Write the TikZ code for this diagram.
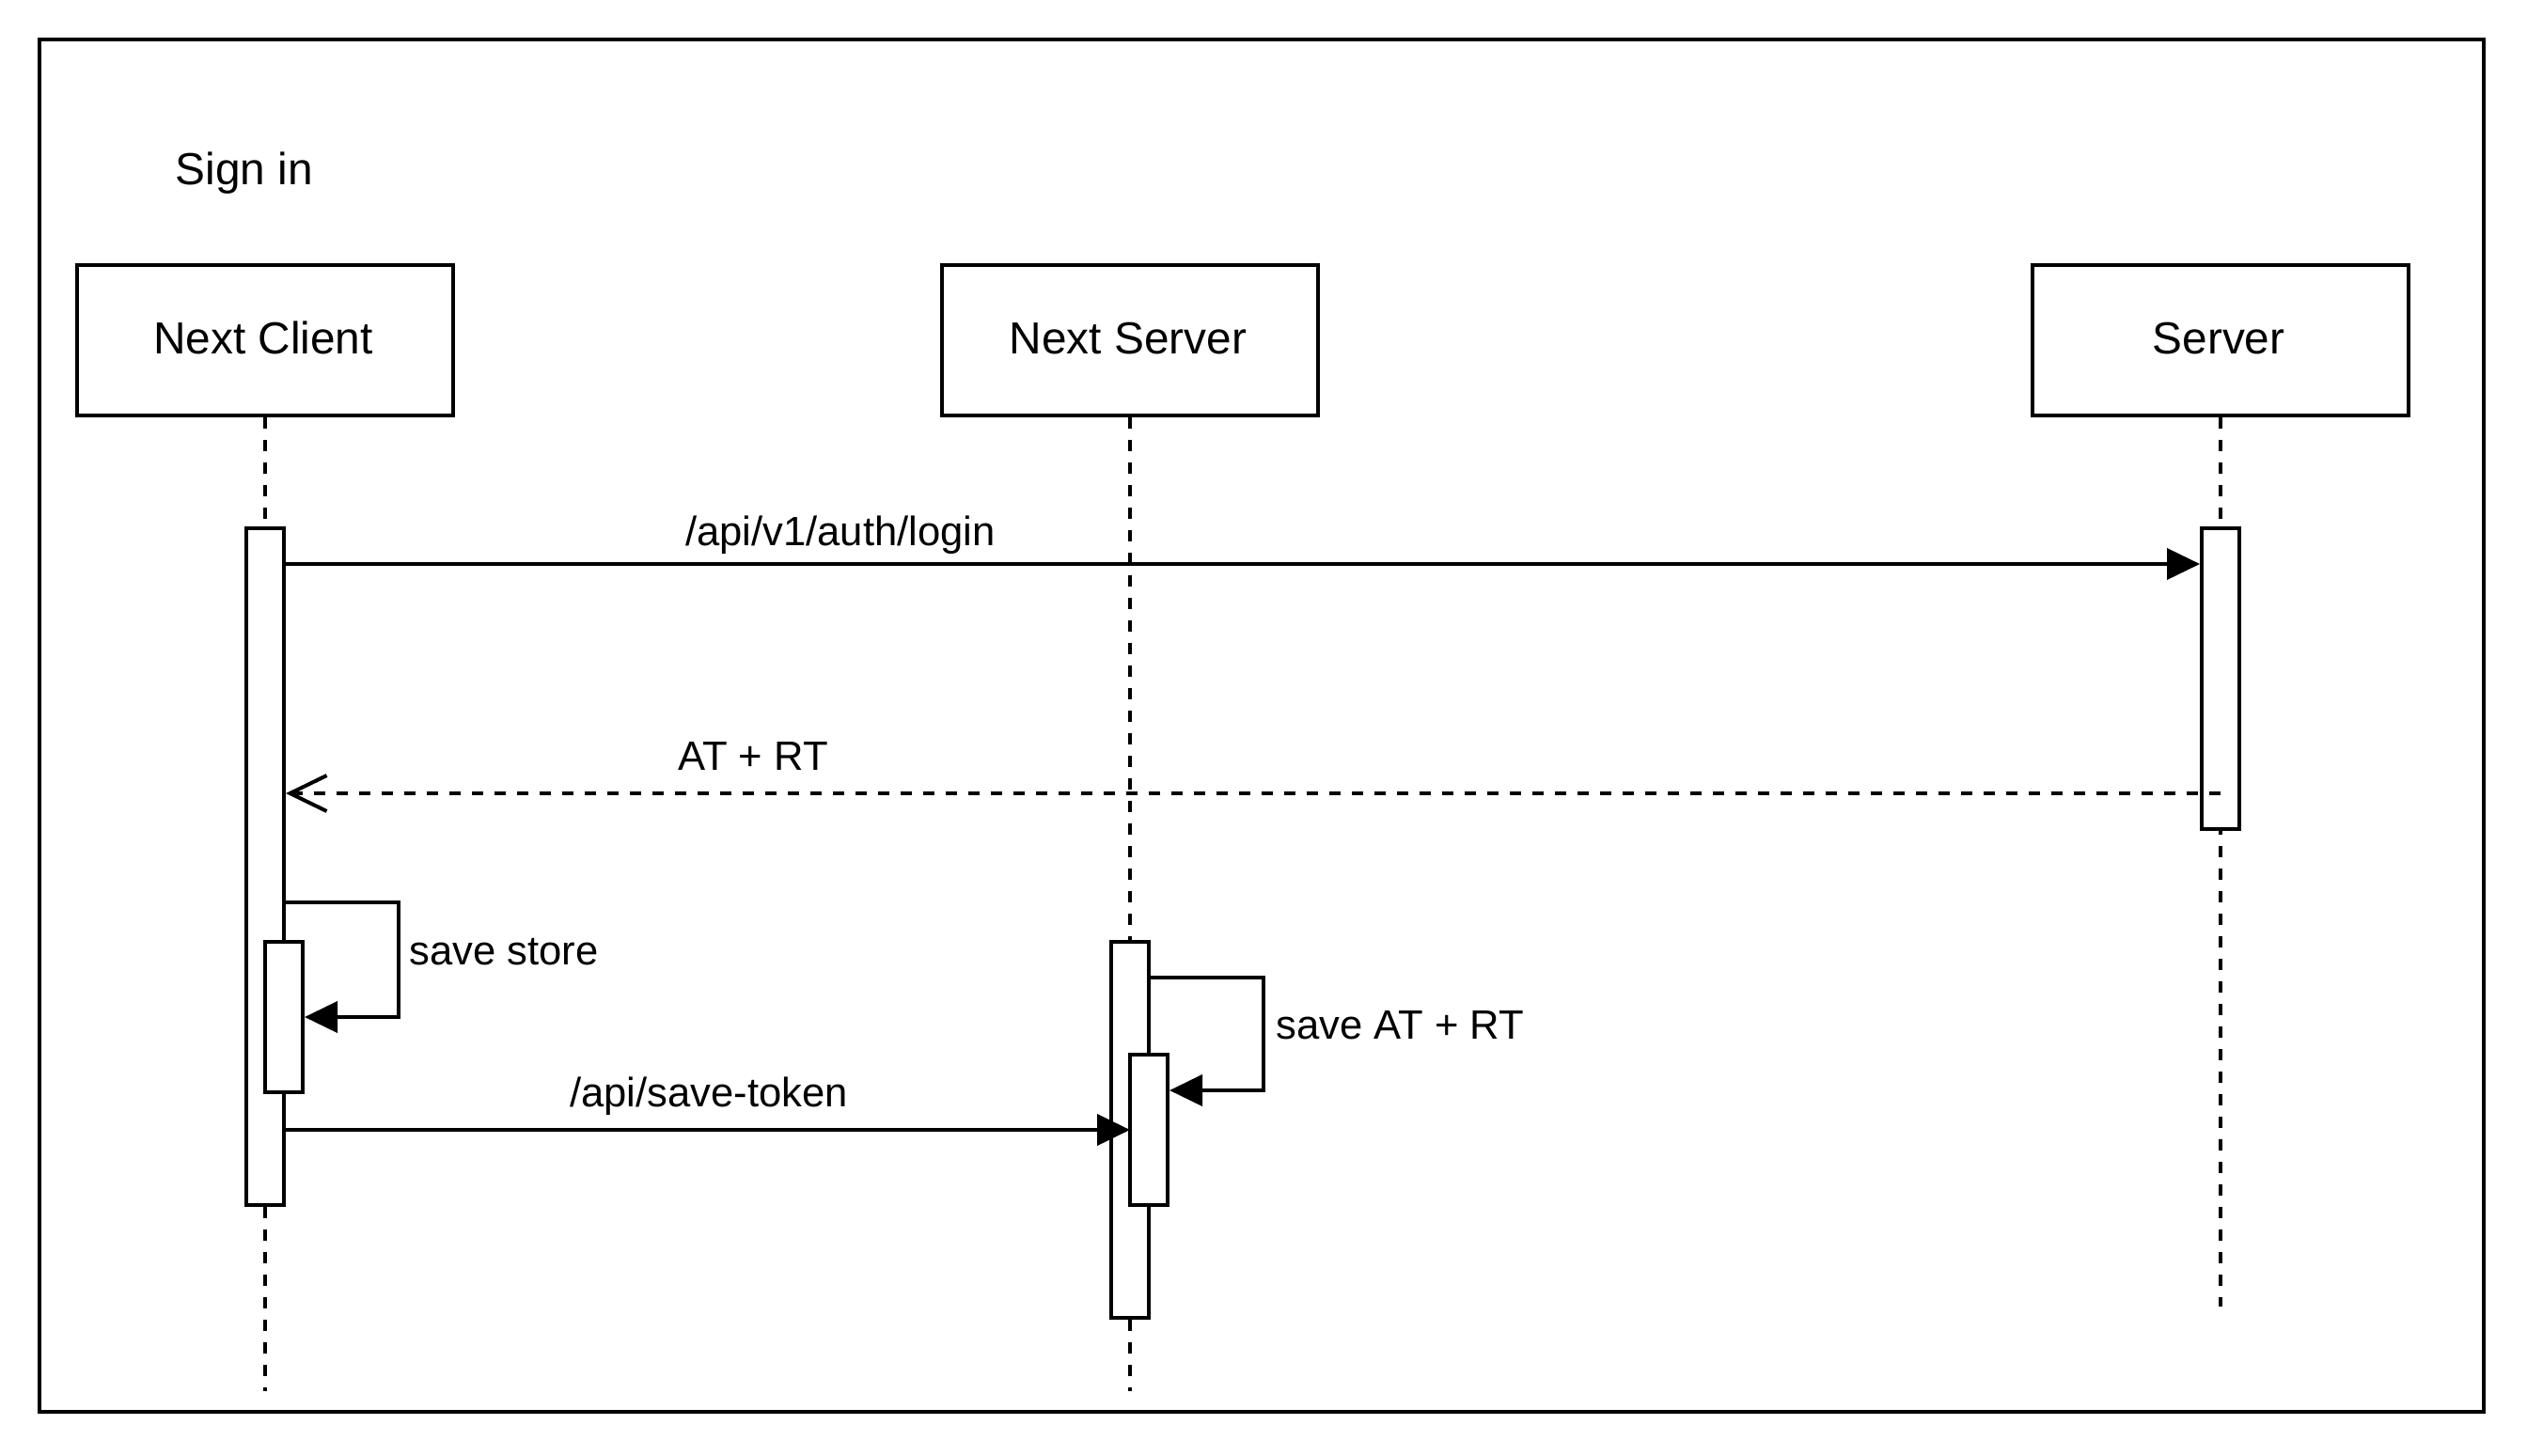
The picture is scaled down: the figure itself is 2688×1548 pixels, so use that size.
\documentclass[tikz,border=0pt]{standalone}
\usepackage{fontspec}
\setmainfont{Liberation Sans}
\usetikzlibrary{arrows.meta}
\begin{document}
\begin{tikzpicture}[x=0.5pt,y=-0.5pt,
  every node/.style={font=\fontsize{23.9pt}{28pt}\selectfont},
  actor/.style={draw,line width=2pt,minimum width=200pt,minimum height=80pt,inner sep=0pt,fill=white},
  act/.style={draw,line width=2pt,minimum width=20pt,inner sep=0pt,fill=white},
  life/.style={line width=2pt,dash pattern=on 6pt off 6pt},
  msg/.style={line width=2pt,-{Triangle[length=17.5pt,width=16.5pt]}},
  ret/.style={line width=2pt,dash pattern=on 6pt off 6pt,-{Straight Barb[length=19.5pt,width=19pt,line width=2pt]}},
  lbl/.style={anchor=base,inner sep=0pt},
  elbl/.style={anchor=base,inner sep=0pt,font=\fontsize{21.8pt}{26pt}\selectfont}]
\useasboundingbox (0,0) rectangle (2688,1548);
\draw[line width=2.2pt] (42,42) rectangle (2642,1502);
\node[lbl] (title) at (260,196) {Sign in};
% actors
\node[actor] (cbox) at (282,362) {};
\node[actor] (nbox) at (1202,362) {};
\node[actor] (sbox) at (2362,362) {};
\node[lbl] (ct) at (280,376) {Next Client};
\node[lbl] (nt) at (1200,376) {Next Server};
\node[lbl] (st) at (2360,376) {Server};
% lifeline ends
\coordinate (ce) at (282,1480);
\coordinate (ne) at (1202,1480);
\coordinate (se) at (2362,1390);
\draw[life] (cbox.south) -- (ce);
\draw[life] (nbox.south) -- (ne);
\draw[life] (sbox.south) -- (se);
% activations
\node[act,minimum height=360pt] (ca) at (282,922) {};
\node[act,minimum height=80pt] (ci) at (302,1082) {};
\node[act,minimum height=160pt] (sa) at (2362,722) {};
\node[act,minimum height=200pt] (no) at (1202,1202) {};
\node[act,minimum height=80pt] (ni) at (1222,1202) {};
% login
\draw[msg] ([yshift=-20pt]ca.north east) -- ([yshift=-20pt]sa.north west);
\node[elbl] (l1) at (894,580) {/api/v1/auth/login};
% return
\coordinate (r1) at ([yshift=20pt]sa.south);
\draw[ret] (r1) -- (ca.east |- r1);
\node[elbl] (l2) at (801,819) {AT + RT};
% save store
\draw[msg] ([yshift=20pt]ci.north -| ca.east) -- ++(60pt,0) |- (ci.east);
\node[elbl,anchor=base west] (l3) at (435,1026) {save store};
% save token
\draw[msg] (ca.east |- ni.west) -- (no.center |- ni.west);
\node[elbl] (l4) at (754,1177) {/api/save-token};
% save AT + RT
\draw[msg] ([yshift=-20pt]no.north east) -- ++(60pt,0) |- ([yshift=-20pt]ni.north east);
\node[elbl,anchor=base west] (l5) at (1357,1105) {save AT + RT};
\end{tikzpicture}
\end{document}
